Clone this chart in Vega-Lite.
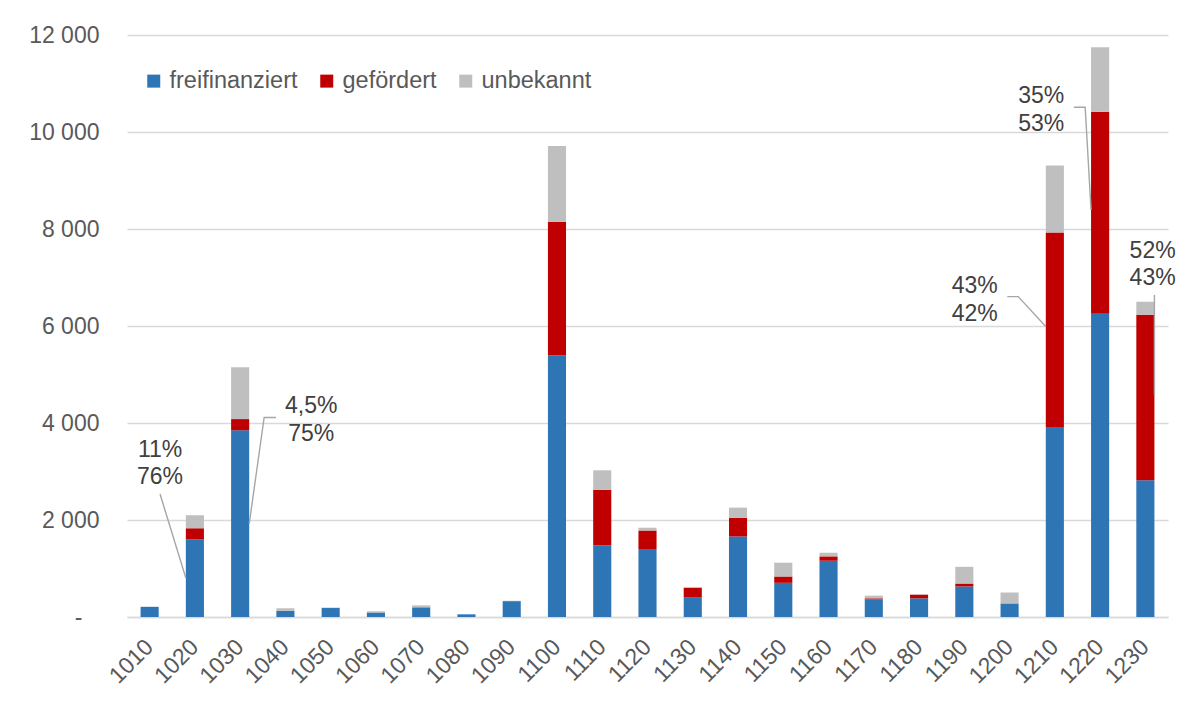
{
  "$schema": "https://vega.github.io/schema/vega-lite/v6.json",
  "width": 1041,
  "height": 582,
  "autosize": {"type": "none"},
  "padding": {"left": 127, "top": 35, "right": 21, "bottom": 89},
  "background": "white",
  "config": {
    "view": {"stroke": null},
    "font": "Liberation Sans",
    "legend": {
      "orient": "none",
      "legendX": 15,
      "legendY": 34,
      "direction": "horizontal",
      "padding": 0,
      "labelFontSize": 23.5,
      "labelColor": "#595959",
      "labelFont": "Liberation Sans",
      "symbolType": "square",
      "symbolSize": 169,
      "symbolStrokeWidth": 0,
      "columnPadding": 17,
      "labelOffset": 4
    }
  },
  "datasets": {
    "bars": [
      {"district": "1010", "type": "freifinanziert", "rank": 1, "count": 210},
      {"district": "1010", "type": "gefördert", "rank": 2, "count": 0},
      {"district": "1010", "type": "unbekannt", "rank": 3, "count": 0},
      {"district": "1020", "type": "freifinanziert", "rank": 1, "count": 1600},
      {"district": "1020", "type": "gefördert", "rank": 2, "count": 230},
      {"district": "1020", "type": "unbekannt", "rank": 3, "count": 270},
      {"district": "1030", "type": "freifinanziert", "rank": 1, "count": 3850},
      {"district": "1030", "type": "gefördert", "rank": 2, "count": 230},
      {"district": "1030", "type": "unbekannt", "rank": 3, "count": 1070},
      {"district": "1040", "type": "freifinanziert", "rank": 1, "count": 125},
      {"district": "1040", "type": "gefördert", "rank": 2, "count": 0},
      {"district": "1040", "type": "unbekannt", "rank": 3, "count": 55},
      {"district": "1050", "type": "freifinanziert", "rank": 1, "count": 185},
      {"district": "1050", "type": "gefördert", "rank": 2, "count": 0},
      {"district": "1050", "type": "unbekannt", "rank": 3, "count": 10},
      {"district": "1060", "type": "freifinanziert", "rank": 1, "count": 95},
      {"district": "1060", "type": "gefördert", "rank": 2, "count": 0},
      {"district": "1060", "type": "unbekannt", "rank": 3, "count": 25},
      {"district": "1070", "type": "freifinanziert", "rank": 1, "count": 200},
      {"district": "1070", "type": "gefördert", "rank": 2, "count": 0},
      {"district": "1070", "type": "unbekannt", "rank": 3, "count": 40},
      {"district": "1080", "type": "freifinanziert", "rank": 1, "count": 55},
      {"district": "1080", "type": "gefördert", "rank": 2, "count": 0},
      {"district": "1080", "type": "unbekannt", "rank": 3, "count": 0},
      {"district": "1090", "type": "freifinanziert", "rank": 1, "count": 310},
      {"district": "1090", "type": "gefördert", "rank": 2, "count": 15},
      {"district": "1090", "type": "unbekannt", "rank": 3, "count": 10},
      {"district": "1100", "type": "freifinanziert", "rank": 1, "count": 5395},
      {"district": "1100", "type": "gefördert", "rank": 2, "count": 2755},
      {"district": "1100", "type": "unbekannt", "rank": 3, "count": 1560},
      {"district": "1110", "type": "freifinanziert", "rank": 1, "count": 1480},
      {"district": "1110", "type": "gefördert", "rank": 2, "count": 1145},
      {"district": "1110", "type": "unbekannt", "rank": 3, "count": 400},
      {"district": "1120", "type": "freifinanziert", "rank": 1, "count": 1400},
      {"district": "1120", "type": "gefördert", "rank": 2, "count": 385},
      {"district": "1120", "type": "unbekannt", "rank": 3, "count": 55},
      {"district": "1130", "type": "freifinanziert", "rank": 1, "count": 410},
      {"district": "1130", "type": "gefördert", "rank": 2, "count": 190},
      {"district": "1130", "type": "unbekannt", "rank": 3, "count": 20},
      {"district": "1140", "type": "freifinanziert", "rank": 1, "count": 1660},
      {"district": "1140", "type": "gefördert", "rank": 2, "count": 385},
      {"district": "1140", "type": "unbekannt", "rank": 3, "count": 210},
      {"district": "1150", "type": "freifinanziert", "rank": 1, "count": 705},
      {"district": "1150", "type": "gefördert", "rank": 2, "count": 130},
      {"district": "1150", "type": "unbekannt", "rank": 3, "count": 285},
      {"district": "1160", "type": "freifinanziert", "rank": 1, "count": 1160},
      {"district": "1160", "type": "gefördert", "rank": 2, "count": 90},
      {"district": "1160", "type": "unbekannt", "rank": 3, "count": 75},
      {"district": "1170", "type": "freifinanziert", "rank": 1, "count": 365},
      {"district": "1170", "type": "gefördert", "rank": 2, "count": 20},
      {"district": "1170", "type": "unbekannt", "rank": 3, "count": 55},
      {"district": "1180", "type": "freifinanziert", "rank": 1, "count": 385},
      {"district": "1180", "type": "gefördert", "rank": 2, "count": 75},
      {"district": "1180", "type": "unbekannt", "rank": 3, "count": 5},
      {"district": "1190", "type": "freifinanziert", "rank": 1, "count": 630},
      {"district": "1190", "type": "gefördert", "rank": 2, "count": 60},
      {"district": "1190", "type": "unbekannt", "rank": 3, "count": 345},
      {"district": "1200", "type": "freifinanziert", "rank": 1, "count": 280},
      {"district": "1200", "type": "gefördert", "rank": 2, "count": 0},
      {"district": "1200", "type": "unbekannt", "rank": 3, "count": 225},
      {"district": "1210", "type": "freifinanziert", "rank": 1, "count": 3920},
      {"district": "1210", "type": "gefördert", "rank": 2, "count": 4010},
      {"district": "1210", "type": "unbekannt", "rank": 3, "count": 1380},
      {"district": "1220", "type": "freifinanziert", "rank": 1, "count": 6255},
      {"district": "1220", "type": "gefördert", "rank": 2, "count": 4165},
      {"district": "1220", "type": "unbekannt", "rank": 3, "count": 1325},
      {"district": "1230", "type": "freifinanziert", "rank": 1, "count": 2820},
      {"district": "1230", "type": "gefördert", "rank": 2, "count": 3410},
      {"district": "1230", "type": "unbekannt", "rank": 3, "count": 270}
    ],
    "notes": [
      {"district": "1020", "pos": 0.23, "val": 3300, "label": "11%\n76%"},
      {"district": "1030", "pos": 3.57, "val": 4204, "label": "4,5%\n75%"},
      {"district": "1210", "pos": 18.23, "val": 6676, "label": "43%\n42%"},
      {"district": "1220", "pos": 19.7, "val": 10591, "label": "35%\n53%"},
      {"district": "1230", "pos": 22.16, "val": 7410, "label": "52%\n43%"}
    ],
    "leaders": [
      {"district": "1020", "step": 1, "pos": 0.23, "val": 2535},
      {"district": "1020", "step": 2, "pos": 0.8, "val": 804},
      {"district": "1030", "step": 1, "pos": 2.79, "val": 4113},
      {"district": "1030", "step": 2, "pos": 2.53, "val": 4113},
      {"district": "1030", "step": 3, "pos": 2.2, "val": 1922},
      {"district": "1210", "step": 1, "pos": 18.95, "val": 6606},
      {"district": "1210", "step": 2, "pos": 19.19, "val": 6606},
      {"district": "1210", "step": 3, "pos": 19.8, "val": 5988},
      {"district": "1220", "step": 1, "pos": 20.42, "val": 10509},
      {"district": "1220", "step": 2, "pos": 20.67, "val": 10509},
      {"district": "1220", "step": 3, "pos": 20.8, "val": 8393},
      {"district": "1230", "step": 1, "pos": 22.2, "val": 6641},
      {"district": "1230", "step": 2, "pos": 22.2, "val": 4581}
    ]
  },
  "layer": [
    {
      "data": {"name": "bars"},
      "mark": {"type": "bar"},
      "encoding": {
        "x": {
          "field": "district",
          "type": "nominal",
          "sort": null,
          "scale": {"paddingInner": 0.6, "paddingOuter": 0.3},
          "axis": {
            "title": null,
            "labelAngle": -45,
            "labelAlign": "right",
            "labelBaseline": "middle",
            "labelFontSize": 23,
            "labelColor": "#595959",
            "labelFont": "Liberation Sans",
            "labelPadding": 26,
            "ticks": false,
            "domainColor": "#d9d9d9",
            "domainWidth": 1.3
          }
        },
        "y": {
          "field": "count",
          "type": "quantitative",
          "stack": "zero",
          "scale": {"domain": [0, 12000], "nice": false},
          "axis": {
            "title": null,
            "values": [0, 2000, 4000, 6000, 8000, 10000, 12000],
            "labelExpr": "datum.value == 0 ? '-\u2800' : replace(format(datum.value, ',d'), ',', ' ')",
            "labelFontSize": 23,
            "labelColor": "#595959",
            "labelFont": "Liberation Sans",
            "labelPadding": 28,
            "ticks": false,
            "domain": false,
            "grid": true,
            "gridColor": "#d9d9d9",
            "gridWidth": 1.3
          }
        },
        "color": {
          "field": "type",
          "type": "nominal",
          "scale": {
            "domain": ["freifinanziert", "gefördert", "unbekannt"],
            "range": ["#2e75b6", "#c00000", "#bfbfbf"]
          },
          "legend": {"title": null}
        },
        "order": {"field": "rank", "type": "quantitative"}
      }
    },
    {
      "layer": [
        {
          "data": {"name": "leaders"},
          "mark": {"type": "line", "color": "#a6a6a6", "strokeWidth": 1.4, "clip": false},
          "encoding": {
            "x": {"field": "pos", "type": "quantitative", "scale": {"domain": [-0.5, 22.5], "nice": false, "zero": false}, "axis": null},
            "y": {"field": "val", "type": "quantitative", "scale": {"domain": [0, 12000], "nice": false}},
            "detail": {"field": "district", "type": "nominal"},
            "order": {"field": "step", "type": "quantitative"}
          }
        },
        {
          "data": {"name": "notes"},
          "mark": {"type": "text", "align": "center", "baseline": "alphabetic", "fontSize": 23, "font": "Liberation Sans", "color": "#404040", "lineBreak": "\n", "lineHeight": 27.5, "clip": false},
          "encoding": {
            "x": {"field": "pos", "type": "quantitative", "scale": {"domain": [-0.5, 22.5], "nice": false, "zero": false}, "axis": null},
            "y": {"field": "val", "type": "quantitative", "scale": {"domain": [0, 12000], "nice": false}},
            "text": {"field": "label"}
          }
        }
      ]
    }
  ],
  "resolve": {"scale": {"x": "independent"}}
}
